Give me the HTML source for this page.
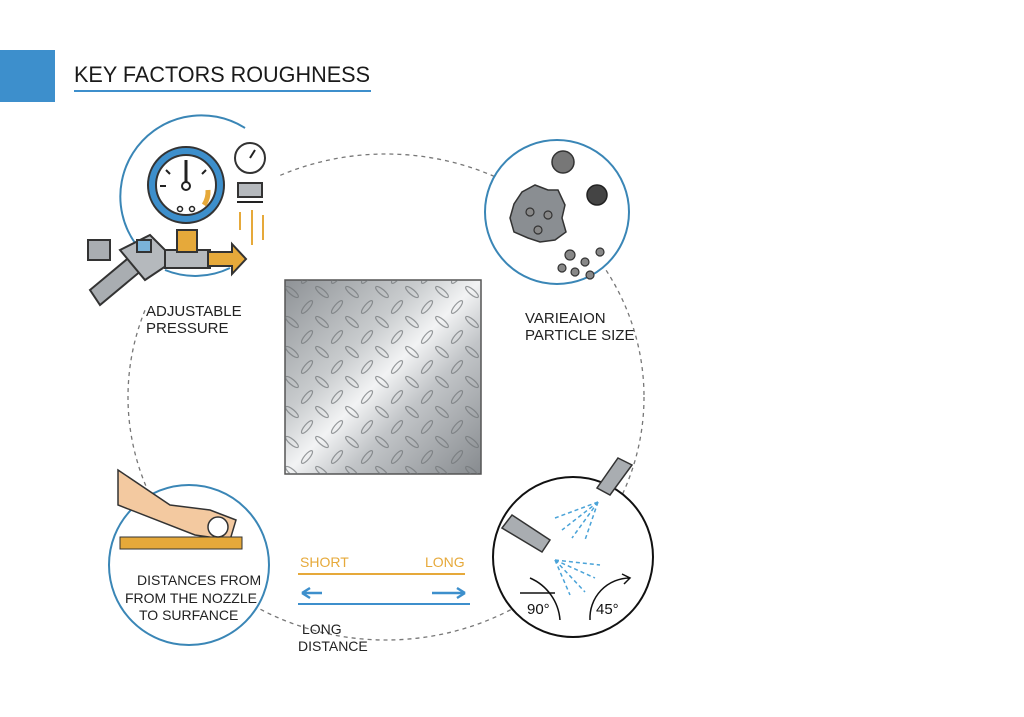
<!DOCTYPE html>
<html><head><meta charset="utf-8"><style>
html,body{margin:0;padding:0;background:#fff;width:1024px;height:717px;overflow:hidden}
text{font-family:"Liberation Sans",sans-serif}
</style></head><body>
<svg width="1024" height="717" viewBox="0 0 1024 717" xmlns="http://www.w3.org/2000/svg">
<defs>
<linearGradient id="met" x1="0" y1="0" x2="1" y2="1">
<stop offset="0" stop-color="#8e9296"/><stop offset="0.35" stop-color="#c9ccce"/><stop offset="0.5" stop-color="#f2f3f4"/><stop offset="0.65" stop-color="#c2c5c8"/><stop offset="1" stop-color="#878b8f"/>
</linearGradient>
<pattern id="dia" width="30" height="30" patternUnits="userSpaceOnUse">
<ellipse cx="7" cy="7" rx="8" ry="2.6" transform="rotate(-50 7 7)" fill="none" stroke="#6f7377" stroke-width="1.2" opacity="0.7"/>
<ellipse cx="22" cy="22" rx="8" ry="2.6" transform="rotate(40 22 22)" fill="none" stroke="#6f7377" stroke-width="1.2" opacity="0.7"/>
</pattern>
</defs>
<rect x="0" y="50" width="55" height="52" fill="#3d8fcc"/>
<text x="74" y="82" font-size="22" fill="#1a1a1a" textLength="296" lengthAdjust="spacingAndGlyphs">KEY FACTORS ROUGHNESS</text>
<line x1="74" y1="91" x2="371" y2="91" stroke="#3d8fcc" stroke-width="2"/>
<ellipse cx="386" cy="397" rx="258" ry="243" fill="none" stroke="#777" stroke-width="1.3" stroke-dasharray="4 4"/>
<rect x="285" y="280" width="196" height="194" fill="url(#met)" stroke="#555" stroke-width="1.5"/>
<rect x="285" y="280" width="196" height="194" fill="url(#dia)"/>
<!-- top-left -->
<rect x="100" y="110" width="180" height="200" fill="#fff"/>
<path d="M245 128 A80 80 0 1 0 158 265" fill="none" stroke="#3a86b6" stroke-width="2"/>
<path d="M165 270 A80 80 0 0 0 230 268" fill="none" stroke="#3a86b6" stroke-width="2"/>
<g stroke="#333" stroke-width="2">
<polygon points="90,290 150,240 160,255 100,305" fill="#a9adb1"/>
<polygon points="120,250 150,235 175,260 145,280" fill="#b5b9bd"/>
<rect x="137" y="240" width="14" height="12" fill="#7ab3d9"/>
<rect x="88" y="240" width="22" height="20" fill="#a9adb1"/>
<rect x="165" y="250" width="45" height="18" fill="#b5b9bd"/>
<rect x="177" y="230" width="20" height="22" fill="#e6a93a"/>
<circle cx="186" cy="185" r="38" fill="#3d8fcc"/>
<circle cx="186" cy="185" r="30" fill="#fff"/>
<polygon points="208,252 232,252 232,244 246,259 232,274 232,266 208,266" fill="#e6a93a"/>
<circle cx="250" cy="158" r="15" fill="#fff"/>
<rect x="238" y="183" width="24" height="14" fill="#b5b9bd"/>
</g>
<g stroke="#222" stroke-width="2"><line x1="186" y1="162" x2="186" y2="170"/><line x1="166" y1="170" x2="170" y2="174"/><line x1="206" y1="170" x2="202" y2="174"/><line x1="160" y1="186" x2="166" y2="186"/></g>
<circle cx="180" cy="209" r="2.5" fill="none" stroke="#222" stroke-width="1.5"/><circle cx="192" cy="209" r="2.5" fill="none" stroke="#222" stroke-width="1.5"/>
<line x1="186" y1="185" x2="186" y2="160" stroke="#222" stroke-width="3"/>
<circle cx="186" cy="186" r="4" fill="#fff" stroke="#222" stroke-width="2"/>
<path d="M208 190 A24 24 0 0 1 204 205" stroke="#e6a93a" stroke-width="5" fill="none"/>
<line x1="250" y1="158" x2="255" y2="150" stroke="#222" stroke-width="2"/>
<line x1="237" y1="202" x2="263" y2="202" stroke="#222" stroke-width="2"/>
<g stroke="#e6a93a" stroke-width="2"><line x1="240" y1="212" x2="240" y2="230"/><line x1="252" y1="210" x2="252" y2="245"/><line x1="263" y1="215" x2="263" y2="240"/></g>
<text x="146" y="316" font-size="15" fill="#222">ADJUSTABLE</text>
<text x="146" y="333" font-size="15" fill="#222">PRESSURE</text>
<!-- top-right -->
<circle cx="557" cy="212" r="72" fill="#fff" stroke="#3a86b6" stroke-width="2"/>
<polygon points="535,185 548,190 558,190 565,205 562,218 566,232 555,240 540,242 528,238 514,232 510,218 514,204 522,192" fill="#8a8e92" stroke="#333" stroke-width="1.5"/>
<circle cx="563" cy="162" r="11" fill="#777" stroke="#333" stroke-width="1.5"/>
<circle cx="597" cy="195" r="10" fill="#444" stroke="#222" stroke-width="1.5"/>
<g fill="#888" stroke="#333" stroke-width="1.2"><circle cx="530" cy="212" r="4"/><circle cx="548" cy="215" r="4"/><circle cx="538" cy="230" r="4"/><circle cx="570" cy="255" r="5"/><circle cx="585" cy="262" r="4"/><circle cx="600" cy="252" r="4"/><circle cx="575" cy="272" r="4"/><circle cx="590" cy="275" r="4"/><circle cx="562" cy="268" r="4"/></g>
<text x="525" y="323" font-size="15" fill="#222">VARIEAION</text>
<text x="525" y="340" font-size="15" fill="#222">PARTICLE SIZE</text>
<!-- bottom-left -->
<circle cx="189" cy="565" r="80" fill="#fff" stroke="#3a86b6" stroke-width="2"/>
<path d="M118 470 L170 505 L210 510 L236 520 L230 540 L195 535 L118 505 Z" fill="#f3c9a0" stroke="#333" stroke-width="1.5"/>
<rect x="120" y="537" width="122" height="12" fill="#e6a93a" stroke="#333" stroke-width="1"/>
<circle cx="218" cy="527" r="10" fill="#fff" stroke="#333" stroke-width="1.5"/>
<text x="137" y="585" font-size="14" fill="#222">DISTANCES FROM</text>
<text x="125" y="603" font-size="14" fill="#222">FROM THE NOZZLE</text>
<text x="139" y="620" font-size="14" fill="#222">TO SURFANCE</text>
<!-- middle arrows -->
<text x="300" y="567" font-size="14" fill="#e6a93a">SHORT</text>
<text x="425" y="567" font-size="14" fill="#e6a93a">LONG</text>
<line x1="298" y1="574" x2="465" y2="574" stroke="#e6a93a" stroke-width="2"/>
<line x1="298" y1="604" x2="470" y2="604" stroke="#3d8fcc" stroke-width="2"/>
<path d="M302 593 H322 M302 593 l8 -5 M302 593 l8 5" stroke="#3d8fcc" stroke-width="2.5" fill="none"/>
<path d="M432 593 H465 M465 593 l-8 -5 M465 593 l-8 5" stroke="#3d8fcc" stroke-width="2.5" fill="none"/>
<text x="302" y="634" font-size="14" fill="#222">LONG</text>
<text x="298" y="651" font-size="14" fill="#222">DISTANCE</text>
<!-- bottom-right -->
<circle cx="573" cy="557" r="80" fill="#fff" stroke="#111" stroke-width="2"/>
<g stroke="#333" stroke-width="1.5" fill="#a9adb1">
<polygon points="618,458 632,465 610,495 597,488"/>
<polygon points="502,528 512,515 550,540 542,552"/>
</g>
<g stroke="#4aa3d8" stroke-width="1.5" stroke-dasharray="4 3">
<line x1="598" y1="502" x2="555" y2="518"/><line x1="598" y1="502" x2="562" y2="530"/><line x1="598" y1="502" x2="572" y2="538"/><line x1="598" y1="502" x2="585" y2="540"/>
<line x1="555" y1="560" x2="600" y2="565"/><line x1="555" y1="560" x2="595" y2="578"/><line x1="555" y1="560" x2="585" y2="592"/><line x1="555" y1="560" x2="570" y2="595"/>
</g>
<path d="M530 578 A50 50 0 0 1 560 620" fill="none" stroke="#111" stroke-width="1.5"/>
<line x1="520" y1="593" x2="555" y2="593" stroke="#111" stroke-width="1.5"/>
<path d="M590 620 A40 40 0 0 1 630 578 M622 574 l8 4 l-6 6" fill="none" stroke="#111" stroke-width="1.5"/>
<text x="527" y="614" font-size="15" fill="#111">90°</text>
<text x="596" y="614" font-size="15" fill="#111">45°</text>
</svg>
</body></html>
